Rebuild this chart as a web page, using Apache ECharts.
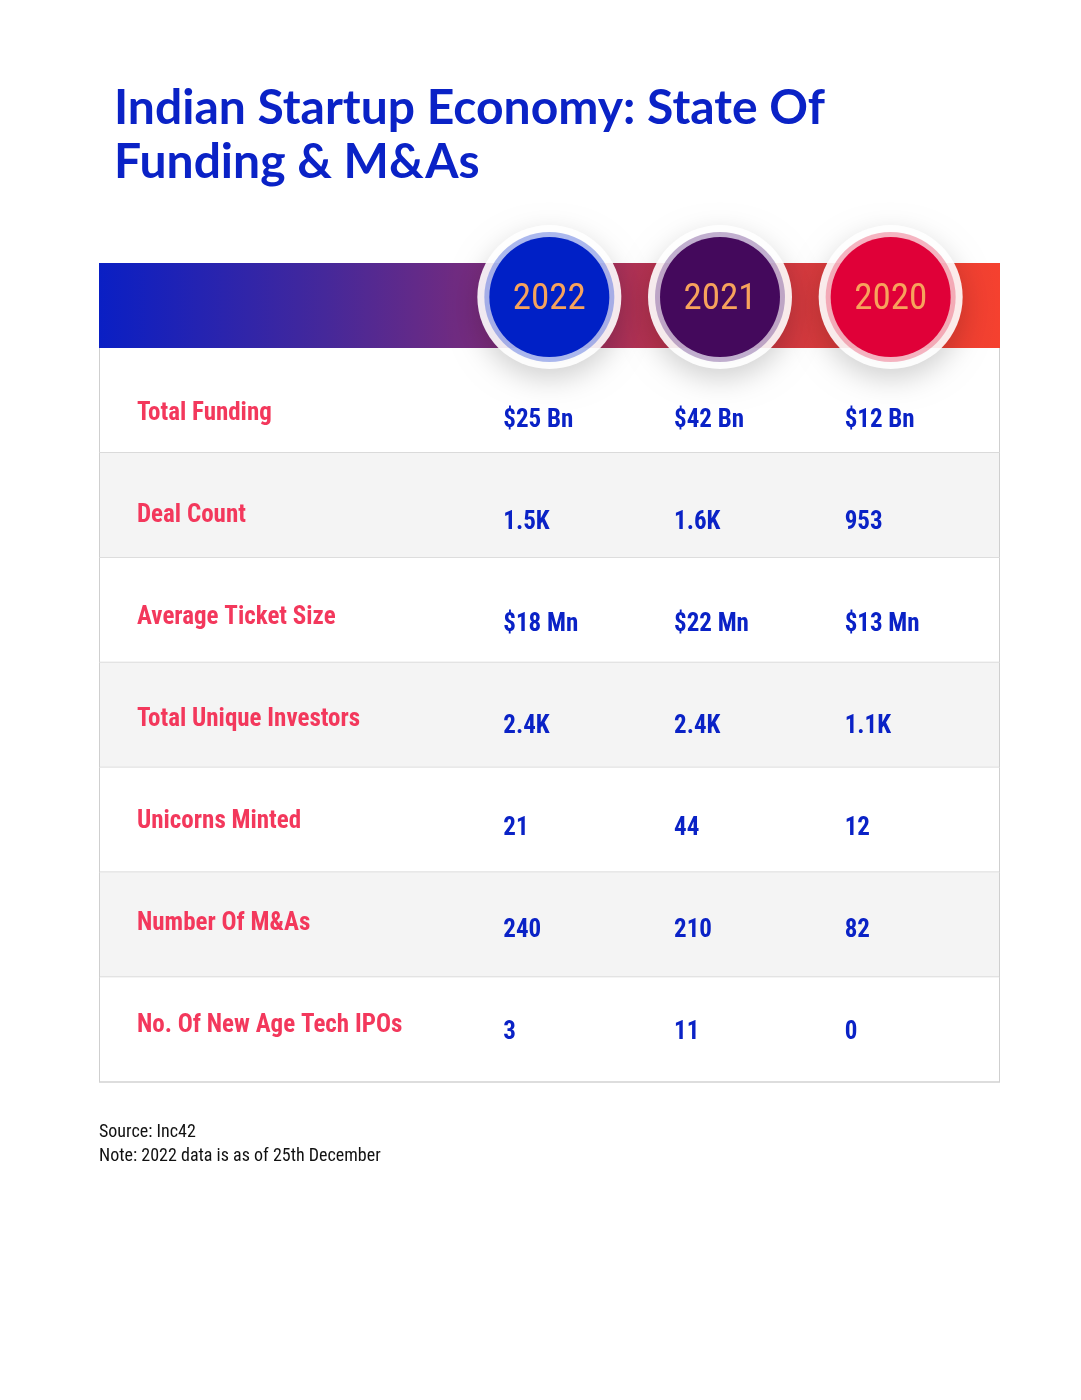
<!DOCTYPE html>
<html>
<head>
<meta charset="utf-8">
<script src="https://cdn.jsdelivr.net/npm/echarts@6/dist/echarts.min.js"></script>
<style>
html,body{margin:0;padding:0;background:#fff;}
#chart{width:1081px;height:1400px;}
</style>
</head>
<body>
<div id="chart"></div>
<script>
// ---- data ----
const titleLines = ['Indian Startup Economy: State Of', 'Funding & M&As'];
const years = ['2022', '2021', '2020'];
const metrics = ['Total Funding', 'Deal Count', 'Average Ticket Size', 'Total Unique Investors', 'Unicorns Minted', 'Number Of M&As', 'No. Of New Age Tech IPOs'];
const values2022 = ['$25 Bn', '1.5K', '$18 Mn', '2.4K', '21', '240', '3'];
const values2021 = ['$42 Bn', '1.6K', '$22 Mn', '2.4K', '44', '210', '11'];
const values2020 = ['$12 Bn', '953', '$13 Mn', '1.1K', '12', '82', '0'];
const footnotes = ['Source: Inc42', 'Note: 2022 data is as of 25th December'];

// ---- styles ----
const COND = '"Roboto Condensed","Liberation Sans Narrow","Arial Narrow","DejaVu Sans Condensed",Roboto,sans-serif';
const TITLE_FONT = 'Lato, Inter, "Open Sans", sans-serif';
const BLUE = '#0a22c6';
const RED = '#f3385c';
const yearColors = ['#0020c6', '#44095c', '#e00038'];
const yearRing = ['rgba(70,100,220,0.45)', 'rgba(120,80,150,0.45)', 'rgba(235,90,120,0.45)'];

const valueCols = [values2022, values2021, values2020];

const chart = echarts.init(document.getElementById('chart'), null, {renderer: 'canvas'});

const H = 1400;
const rowIdx = metrics.map((m, i) => [0, i]);
const cellData = [];
years.forEach((y, c) => metrics.forEach((m, r) => cellData.push([c, r])));
const headData = years.map((y, c) => [c, 0]);

const option = {
  backgroundColor: '#ffffff',
  animation: false,
  title: {
    text: titleLines.join('\n'),
    left: 109, top: 77,
    textStyle: {fontFamily: TITLE_FONT, fontSize: 48, fontWeight: 'bold', color: BLUE, lineHeight: 54}
  },
  grid: [
    // table body rows
    {left: 99, right: 81, top: 348, bottom: H - 1082},
    // year columns (header circles)
    {left: 464, right: 105, top: 348, bottom: H - 1082},
    // row label text band
    {left: 99, right: 81, top: 363, bottom: H - 1077},
    // value text band
    {left: 464, right: 105, top: 370, bottom: H - 1084}
  ],
  xAxis: [
    {gridIndex: 0, type: 'category', data: ['metric'], show: false},
    {gridIndex: 1, type: 'category', data: years, show: false},
    {gridIndex: 2, type: 'category', data: ['metric'], show: false},
    {gridIndex: 3, type: 'category', data: years, show: false}
  ],
  yAxis: [
    {gridIndex: 0, type: 'category', data: metrics, inverse: true, show: false},
    {gridIndex: 1, type: 'category', data: metrics, inverse: true, show: false},
    {gridIndex: 2, type: 'category', data: metrics, inverse: true, show: false},
    {gridIndex: 3, type: 'category', data: metrics, inverse: true, show: false}
  ],
  graphic: [
    {
      type: 'rect', z: 1, silent: true,
      shape: {x: 99, y: 263, width: 901, height: 85},
      style: {
        fill: new echarts.graphic.LinearGradient(0, 0, 1, 0, [
          {offset: 0, color: '#0a1fc4'},
          {offset: 0.25, color: '#45289a'},
          {offset: 0.45, color: '#7f2c78'},
          {offset: 0.62, color: '#b8324e'},
          {offset: 0.8, color: '#d83a3c'},
          {offset: 1, color: '#f5412f'}
        ])
      }
    },
    {
      type: 'text', left: 99, top: 1120, z: 5,
      style: {text: footnotes.join('\n'), font: '18px ' + COND, fill: '#111', lineHeight: 24}
    }
  ],
  series: [
    {
      type: 'custom', xAxisIndex: 0, yAxisIndex: 0, z: 2,
      data: rowIdx,
      renderItem: function (params, api) {
        const cs = params.coordSys;
        const r = api.value(1);
        const c = api.coord([0, r]);
        const h = api.size([0, 1])[1];
        const top = c[1] - h / 2;
        return {type: 'group', children: [
          {type: 'rect', shape: {x: cs.x, y: top, width: cs.width, height: h},
           style: {fill: r % 2 === 1 ? '#f4f4f4' : '#ffffff'}},
          {type: 'line', shape: {x1: cs.x + 0.5, y1: top, x2: cs.x + 0.5, y2: top + h}, style: {stroke: '#cfcfcf', lineWidth: 1}},
          {type: 'line', shape: {x1: cs.x + cs.width - 0.5, y1: top, x2: cs.x + cs.width - 0.5, y2: top + h}, style: {stroke: '#cfcfcf', lineWidth: 1}},
          {type: 'line', shape: {x1: cs.x, y1: top + h, x2: cs.x + cs.width, y2: top + h}, style: {stroke: '#d2d2d2', lineWidth: 1.5}}
        ]};
      }
    },
    {
      type: 'custom', xAxisIndex: 2, yAxisIndex: 2, z: 3,
      data: rowIdx,
      renderItem: function (params, api) {
        const cs = params.coordSys;
        const r = api.value(1);
        const c = api.coord([0, r]);
        return {type: 'text', x: cs.x + 38, y: c[1],
          style: {text: metrics[r], font: 'bold 25px ' + COND, fill: RED, verticalAlign: 'middle', align: 'left'}};
      }
    },
    {
      type: 'custom', xAxisIndex: 3, yAxisIndex: 3, z: 3,
      data: cellData,
      renderItem: function (params, api) {
        const col = api.value(0), r = api.value(1);
        const p = api.coord([col, r]);
        return {type: 'text', x: p[0] - 46, y: p[1],
          style: {text: valueCols[col][r], font: 'bold 25px ' + COND, fill: BLUE, verticalAlign: 'middle', align: 'left'}};
      }
    },
    {
      type: 'custom', xAxisIndex: 1, yAxisIndex: 1, z: 4,
      data: headData,
      renderItem: function (params, api) {
        const cs = params.coordSys;
        const col = api.value(0);
        const p = api.coord([col, 0]);
        const cx = p[0], cy = cs.y - 51;
        return {type: 'group', children: [
          {type: 'circle', shape: {cx: cx, cy: cy, r: 72},
           style: {fill: 'rgba(255,255,255,0.9)', shadowBlur: 28, shadowOffsetY: 10, shadowColor: 'rgba(0,0,0,0.2)'}},
          {type: 'circle', shape: {cx: cx, cy: cy, r: 65}, style: {fill: yearRing[col]}},
          {type: 'circle', shape: {cx: cx, cy: cy, r: 60}, style: {fill: yearColors[col]}},
          {type: 'text', x: cx, y: cy + 3,
           style: {text: years[col], font: '37px ' + COND, fill: '#f7a35c', align: 'center', verticalAlign: 'middle'}}
        ]};
      }
    }
  ]
};
chart.setOption(option);
</script>
</body>
</html>
